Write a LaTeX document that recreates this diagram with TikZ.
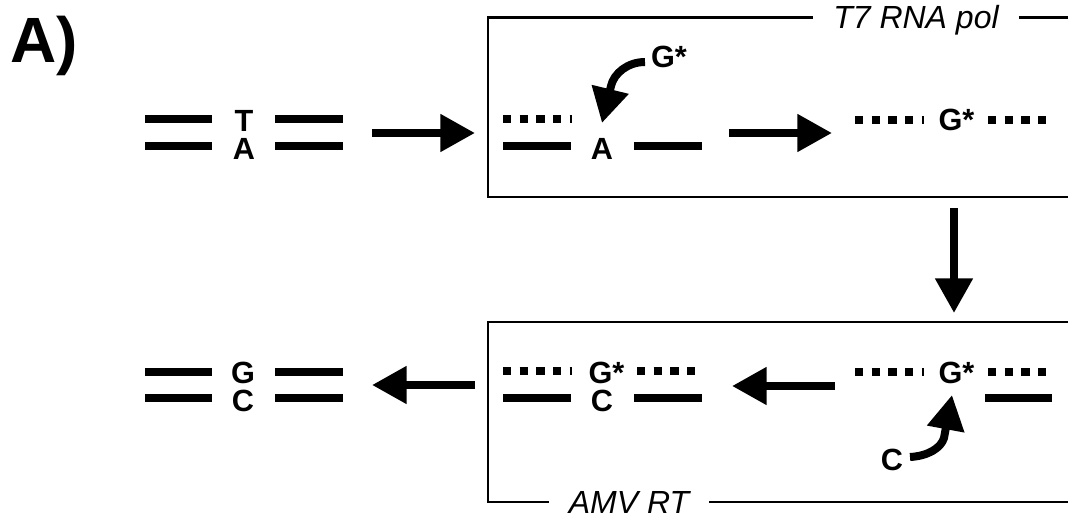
\documentclass[tikz,border=0pt]{standalone}
\usepackage{fontspec}
\setmainfont{Liberation Sans}
\usetikzlibrary{arrows.meta}
\newcommand\lettfont{\fontsize{23pt}{27pt}\selectfont\bfseries}
\newcommand\enzfont{\fontsize{24pt}{28pt}\selectfont\itshape}
\begin{document}
\begin{tikzpicture}[x=0.75pt, y=-0.75pt,
  letter/.style={font=\lettfont, anchor=base, inner sep=0pt},
  enzyme/.style={font=\enzfont, text height=17.2pt, text depth=0pt, inner ysep=0pt, inner xsep=15pt},
  strand/.style={line width=6pt},
  rna/.style={line width=6pt, dash pattern=on 6.2pt off 6.3pt},
  boxline/.style={line width=2.2pt},
  bigarrow/.style={line width=6pt, -{Triangle[length=26pt,width=27pt]}}]
\useasboundingbox (0,0) rectangle (1068,517);

% panel label
\node[anchor=base west, inner sep=0pt, font=\fontsize{48pt}{52pt}\selectfont\bfseries] (panel) at (10,63) {A)};

% ---------- top left: DNA with T/A ----------
\node[letter] (tl) at (244,132) {T};
\node[letter] (al) at (244,159) {A};
\draw[strand] (145,119) -- (212,119);
\draw[strand] (145,146) -- (212,146);
\draw[strand] (275,119) -- (343,119);
\draw[strand] (275,146) -- (343,146);

\coordinate (r1s) at (372,133);
\coordinate (r1e) at (475,133);
\draw[bigarrow] (r1s) -- (r1e);

% ---------- top box: T7 RNA pol ----------
\node[enzyme] (t7) at (916,17.5) {T7 RNA pol};
\coordinate (tTL) at (488,17.5);
\coordinate (tBL) at (488,197);
\coordinate (tBR) at (1068,197);
\coordinate (tTR) at (1068,17.5);
\draw[boxline] (t7.west) -- (tTL) -- (tBL) -- (tBR);
\draw[boxline] (t7.east) -- (tTR);

\draw[rna] (503,119) -- (572,119);
\draw[strand] (503,146) -- (571,146);
\draw[strand] (634,146) -- (702,146);
\node[letter] (at) at (602,160) {A};
\node[letter] (gsrc) at (669,68) {G*};
\coordinate (c1s) at (645,62);
\coordinate (c1e) at (602,123);
\draw[bigarrow] (c1s) .. controls (628,62) and (614,73) .. (611,86) -- (c1e);

\coordinate (r2s) at (729,133);
\coordinate (r2e) at (832,133);
\draw[bigarrow] (r2s) -- (r2e);

\draw[rna] (855,120) -- (924,120);
\node[letter] (gtr) at (956.5,131) {G*};
\draw[rna] (988,120) -- (1047.5,120);

% down arrow
\coordinate (ds) at (954,208);
\coordinate (de) at (954,313);
\draw[bigarrow] (ds) -- (de);

% ---------- bottom box: AMV RT ----------
\node[enzyme] (amv) at (629,502) {AMV RT};
\coordinate (bTL) at (488,322);
\coordinate (bBL) at (488,502);
\coordinate (bTR) at (1068,322);
\coordinate (bBR) at (1068,502);
\draw[boxline] (amv.west) -- (bBL) -- (bTL) -- (bTR);
\draw[boxline] (amv.east) -- (bBR);

\draw[rna] (855,372) -- (924,372);
\node[letter] (gbr) at (956.5,383) {G*};
\draw[rna] (988,372) -- (1047.5,372);
\draw[strand] (985,398) -- (1052,398);
\node[letter] (csrc) at (892,470) {C};
\coordinate (c2s) at (910,457);
\coordinate (c2e) at (952,395);
\draw[bigarrow] (c2s) .. controls (928,456) and (941,448) .. (944,438) -- (c2e);

\coordinate (l1s) at (835,386);
\coordinate (l1e) at (732,386);
\draw[bigarrow] (l1s) -- (l1e);

\draw[rna] (503,371) -- (572,371);
\node[letter] (gbl) at (606.5,383) {G*};
\draw[rna] (637,371) -- (696,371);
\draw[strand] (503,398) -- (571,398);
\node[letter] (cbl) at (602,411) {C};
\draw[strand] (634,398) -- (702,398);

\coordinate (l2s) at (475,385);
\coordinate (l2e) at (372,385);
\draw[bigarrow] (l2s) -- (l2e);

% ---------- bottom left: DNA with G/C ----------
\node[letter] (gl) at (243,383) {G};
\node[letter] (cl) at (243,411) {C};
\draw[strand] (145,372) -- (212,372);
\draw[strand] (145,398) -- (212,398);
\draw[strand] (275,372) -- (343,372);
\draw[strand] (275,398) -- (343,398);
\end{tikzpicture}
\end{document}
